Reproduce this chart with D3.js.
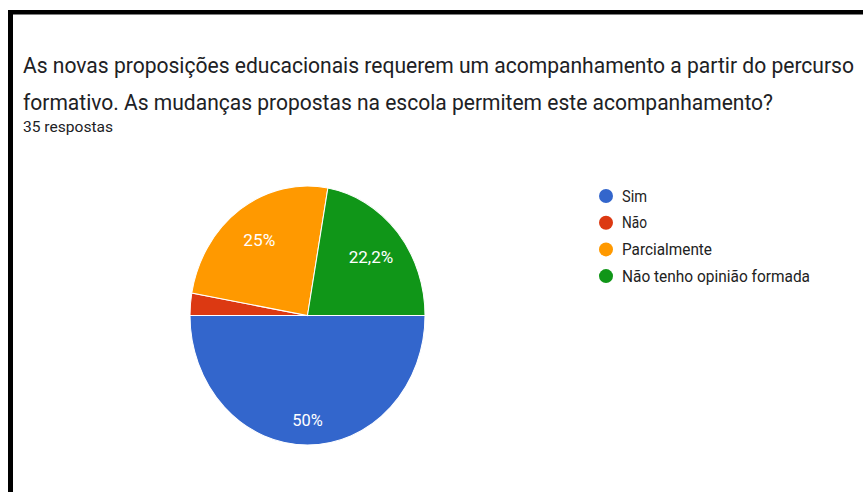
<!DOCTYPE html>
<html>
<head>
<meta charset="utf-8">
<script src="https://cdn.jsdelivr.net/npm/d3@7"></script>
<style>
  html, body { margin: 0; padding: 0; background: #fff; }
  svg { display: block; }
  text { font-family: Roboto, "Noto Sans", sans-serif; }
</style>
</head>
<body>
<svg id="chart" width="863" height="492"></svg>
<script>
// ---- data ----
const titleLines = [
  "As novas proposições educacionais requerem um acompanhamento a partir do percurso",
  "formativo. As mudanças propostas na escola permitem este acompanhamento?"
];
const subtitle = "35 respostas";
const categories = ["Sim", "Não", "Parcialmente", "Não tenho opinião formada"];
const counts = [18, 1, 9, 8];
const labels = ["50%", "", "25%", "22,2%"];
const colors = ["#3366cc", "#dc3912", "#ff9900", "#109618"];

// ---- layout ----
const W = 863, H = 492;
const svg = d3.select("#chart");

// frame (black border on top and left)
svg.append("rect").attr("x", 8).attr("y", 10).attr("width", W - 8).attr("height", 4.5).attr("fill", "#000");
svg.append("rect").attr("x", 8).attr("y", 10).attr("width", 5).attr("height", H - 10).attr("fill", "#000");

// title (slightly stretched vertically like the reference screenshot)
const titleBase = [72.7, 110];
const titleWidths = [831, 750];
titleLines.forEach((t, i) => {
  svg.append("text")
    .attr("transform", `translate(23,${titleBase[i]}) scale(1,1.125)`)
    .attr("x", 0).attr("y", 0)
    .attr("font-size", 20)
    .attr("fill", "#202124")
    .attr("textLength", titleWidths[i])
    .attr("lengthAdjust", "spacingAndGlyphs")
    .text(t);
});
svg.append("text")
  .attr("x", 23).attr("y", 132.3)
  .attr("font-size", 15.5)
  .attr("fill", "#202124")
  .attr("textLength", 90)
  .attr("lengthAdjust", "spacingAndGlyphs")
  .text(subtitle);

// pie
const cx = 307.5, cy = 315.5, r = 117.5, sy = 129.5 / 117.5;
const data = categories.map((c, i) => ({ c, v: counts[i], color: colors[i], label: labels[i] }));
const total = d3.sum(counts);
const pie = d3.pie().value(d => d.v).sort(null)
  .startAngle(Math.PI / 2).endAngle(Math.PI / 2 + 2 * Math.PI);
const arcs = pie(data);
const arc = d3.arc().innerRadius(0).outerRadius(r);

const g = svg.append("g").attr("transform", `translate(${cx},${cy}) scale(1,${sy})`);
g.selectAll("path").data(arcs).join("path")
  .attr("d", arc)
  .attr("fill", d => d.data.color)
  .attr("stroke", "#fff")
  .attr("stroke-width", 1);

// slice labels
const labelWidths = { "50%": 30.5, "25%": 32, "22,2%": 44.5 };
arcs.forEach(a => {
  if (!a.data.label) return;
  const frac = a.data.v / total;
  const k = 0.62 + 0.38 * frac;
  const mid = (a.startAngle + a.endAngle) / 2;
  const lx = cx + Math.sin(mid) * r * k;
  const ly = cy - Math.cos(mid) * r * k * sy;
  svg.append("text")
    .attr("x", lx).attr("y", ly + 6)
    .attr("text-anchor", "middle")
    .attr("font-size", 16.5)
    .attr("fill", "#fff")
    .attr("textLength", labelWidths[a.data.label])
    .attr("lengthAdjust", "spacingAndGlyphs")
    .text(a.data.label);
});

// legend
const legendWidths = [25, 25, 90, 188];
const lg = svg.append("g");
data.forEach((d, i) => {
  const y = 196 + i * 26.7;
  lg.append("ellipse").attr("cx", 606).attr("cy", y).attr("rx", 7).attr("ry", 7)
    .attr("fill", d.color);
  lg.append("text")
    .attr("x", 622).attr("y", y + 5.6)
    .attr("font-size", 16)
    .attr("fill", "#222")
    .attr("textLength", legendWidths[i])
    .attr("lengthAdjust", "spacingAndGlyphs")
    .text(d.c);
});
</script>
</body>
</html>
